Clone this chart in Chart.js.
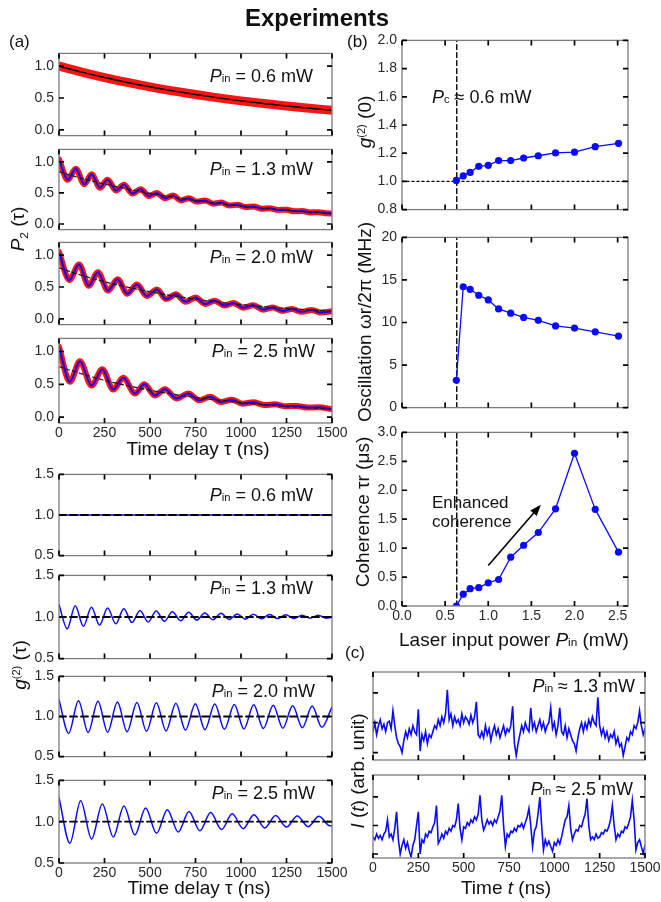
<!DOCTYPE html>
<html>
<head>
<meta charset="utf-8">
<script src="https://cdn.jsdelivr.net/npm/chart.js@4.4.1/dist/chart.umd.min.js"></script>
<style>
	html, body { margin: 0; padding: 0; background: #fff; }
	#fig { position: relative; width: 661px; height: 902px; overflow: hidden; font-family: "Liberation Sans", Arial, sans-serif; color: #111; }
	#fig canvas { position: absolute; }
	.txt { position: absolute; white-space: nowrap; line-height: 1; }
	.s { font-size: 0.62em; }
	.sub { font-size: 0.62em; position: relative; top: 0.3em; }
	.sup { font-size: 0.58em; position: relative; top: -0.55em; }
</style>
</head>
<body>
<div id="fig"></div>
<script>
	// ---- (a) upper: P2(tau) ----
	const p2FitTau = [0, 125, 250, 375, 500, 625, 750, 875, 1000, 1125, 1250, 1375, 1500];
	const p2Fit06 = [1.0, 0.906, 0.821, 0.745, 0.675, 0.612, 0.554, 0.502, 0.455, 0.413, 0.374, 0.339, 0.307];
	const p2Trend13 = [0.84, 0.735, 0.644, 0.564, 0.493, 0.432, 0.378, 0.331, 0.29, 0.254, 0.222, 0.194, 0.17];
	const p2Trend20 = [0.8, 0.683, 0.583, 0.498, 0.425, 0.363, 0.31, 0.265, 0.226, 0.193, 0.165, 0.141, 0.12];
	const p2Trend25 = [0.77, 0.66, 0.56, 0.48, 0.41, 0.35, 0.3, 0.26, 0.22, 0.19, 0.16, 0.14, 0.12];

	// peaks and troughs of the measured P2 curves
	const p2Tau13 = [0, 48, 92, 139, 179, 225, 267, 313, 357, 403, 449, 494, 537, 582, 626, 670, 714, 758, 803, 847, 892, 936, 981, 1025, 1070, 1114, 1159, 1203, 1248, 1292, 1337, 1381, 1426, 1470, 1500];
	const p2Val13 = [1.04, 0.71, 0.89, 0.64, 0.8, 0.585, 0.71, 0.54, 0.63, 0.49, 0.56, 0.45, 0.5, 0.415, 0.46, 0.38, 0.415, 0.36, 0.38, 0.326, 0.344, 0.297, 0.311, 0.272, 0.281, 0.247, 0.254, 0.226, 0.229, 0.205, 0.208, 0.186, 0.19, 0.172, 0.17];
	const p2Tau20 = [0, 57, 110, 163, 214, 269, 322, 375, 428, 483, 538, 589, 642, 695, 750, 803, 856, 909, 958, 1013, 1068, 1123, 1174, 1227, 1280, 1333, 1388, 1439, 1500];
	const p2Val20 = [1.05, 0.61, 0.855, 0.52, 0.73, 0.445, 0.62, 0.395, 0.54, 0.36, 0.46, 0.31, 0.385, 0.27, 0.335, 0.235, 0.285, 0.21, 0.25, 0.175, 0.215, 0.145, 0.18, 0.125, 0.155, 0.11, 0.14, 0.1, 0.12];
	const p2Tau25 = [0, 60, 115, 179, 238, 298, 353, 418, 469, 527, 582, 646, 711, 770, 830, 889, 949, 1008, 1068, 1127, 1187, 1246, 1306, 1365, 1425, 1500];
	const p2Val25 = [1.07, 0.54, 0.85, 0.48, 0.73, 0.42, 0.6, 0.36, 0.5, 0.33, 0.425, 0.285, 0.36, 0.255, 0.31, 0.23, 0.265, 0.205, 0.225, 0.185, 0.195, 0.165, 0.17, 0.145, 0.15, 0.12];

	// ---- (a) lower: g2(tau), peaks and troughs ----
	const g2BaseTau = [0, 1500];
	const g2Base = [1.0, 1.0];
	const g2Tau13 = [0, 45, 89, 134, 178, 223, 267, 312, 356, 401, 445, 490, 534, 579, 623, 668, 712, 757, 801, 846, 890, 935, 979, 1024, 1068, 1113, 1157, 1202, 1246, 1291, 1335, 1380, 1424, 1469, 1500];
	const g2Val13 = [1.15, 0.858, 1.135, 0.888, 1.116, 0.903, 1.109, 0.918, 1.1, 0.933, 1.079, 0.94, 1.071, 0.948, 1.064, 0.955, 1.056, 0.963, 1.049, 0.966, 1.045, 0.97, 1.037, 0.974, 1.034, 0.978, 1.03, 0.981, 1.026, 0.981, 1.022, 0.985, 1.022, 0.985, 1.0];
	const g2Tau20 = [0, 53, 107, 160, 214, 267, 321, 374, 428, 481, 535, 588, 642, 695, 749, 802, 856, 909, 963, 1016, 1070, 1123, 1177, 1230, 1284, 1337, 1391, 1444, 1500];
	const g2Val20 = [1.21, 0.79, 1.195, 0.8, 1.19, 0.805, 1.18, 0.81, 1.175, 0.815, 1.17, 0.82, 1.165, 0.83, 1.16, 0.835, 1.155, 0.84, 1.15, 0.845, 1.145, 0.85, 1.14, 0.855, 1.135, 0.86, 1.13, 0.865, 1.12];
	const g2Tau25 = [0, 60, 119, 179, 238, 298, 357, 417, 476, 536, 595, 655, 714, 774, 833, 893, 952, 1012, 1071, 1131, 1190, 1250, 1309, 1369, 1428, 1488, 1500];
	const g2Val25 = [1.29, 0.74, 1.255, 0.79, 1.215, 0.815, 1.19, 0.84, 1.165, 0.86, 1.145, 0.875, 1.125, 0.89, 1.11, 0.905, 1.095, 0.915, 1.085, 0.925, 1.075, 0.935, 1.07, 0.94, 1.065, 0.95, 0.952];

	// ---- (b) vs laser input power ----
	const pinPower = [0.63, 0.71, 0.79, 0.89, 1.0, 1.12, 1.26, 1.41, 1.58, 1.78, 2.0, 2.24, 2.51];
	const g2Zero = [1.007, 1.039, 1.064, 1.107, 1.114, 1.148, 1.148, 1.166, 1.182, 1.202, 1.207, 1.246, 1.27];
	const oscFreq = [3.2, 14.2, 13.9, 13.2, 12.65, 11.6, 11.1, 10.6, 10.25, 9.6, 9.35, 8.9, 8.4];
	const cohTime = [0.0, 0.204, 0.3, 0.317, 0.4, 0.458, 0.843, 1.05, 1.27, 1.68, 2.64, 1.67, 0.93];
	const pcThreshold = 0.635;
	const arrowFrom = { x: 1.0, y: 0.7 };
	const arrowTo = { x: 1.61, y: 1.75 };

	// ---- (c) intensity traces, one sample every 10 ns ----
	const traceStep = 10;
	const traceI13 = [0.7, 1.0, 0.6, 0.9, 1.1, 0.8, 0.95, 0.7, 1.0, 1.05, 0.8, 1.4, 0.9, 0.5, 0.3, 0.2, 0.0,
		0.4, 0.7, 0.5, 0.8, 0.6, 0.9, 0.7, 0.6, 1.45, 0.05, 0.6, 0.4, 0.7, 0.3, 0.6, 0.5,
		0.7, 0.9, 0.8, 1.1, 0.9, 1.2, 1.0, 1.3, 2.1, 1.1, 1.3, 0.9, 1.2, 1.0, 1.1, 0.9, 1.3, 1.0, 1.2, 1.1, 0.95, 1.25, 1.0, 1.2,
		1.7, 0.6, 0.5, 0.7, 0.5, 0.9, 0.6, 0.8, 0.4, 0.7, 0.9, 0.6, 0.8, 0.5, 0.7, 0.9, 0.6, 0.8, 0.7, 0.9,
		1.55, 0.3, -0.1, 0.3, 0.6, 0.9, 0.7, 1.0, 0.8, 0.7, 1.5, 0.8, 1.0, 0.7, 0.9, 1.1, 0.8, 1.0, 0.7, 0.9, 1.0,
		1.5, 0.8, 1.0, 0.6, 0.9, 1.5, 0.7, 0.6, 0.9, 0.5, 0.8, 0.6, 0.4, 0.3, 0.05,
		0.5, 0.8, 1.0, 0.7, 1.0, 0.8, 1.1, 0.9, 1.2, 1.0, 0.9, 1.85,
		0.9, 0.6, 0.8, 0.5, 0.7, 0.4, 0.6, 0.5, 0.7, 0.3, 0.5, 0.2, 0.3, -0.1,
		0.2, 0.5, 0.4, 0.7, 0.6, 0.9, 0.8, 1.0, 1.4, 0.9, 0.6, 0.8];
	const traceI25 = [0.6, 0.5, 0.7, 0.55, 0.65, 0.5, 0.7, 0.8, 1.2, 0.6, 0.7, 0.5, 0.9, 1.48, 0.5, 0.0,
		0.3, 0.5, 0.2, 0.4, 0.1, -0.1, 0.3, 0.5, 1.0, 1.48, 0.0,
		0.5, 0.4, 0.7, 0.6, 0.8, 0.75, 0.95, 1.1, 1.7, 0.37,
		0.5, 0.7, 0.55, 0.8, 0.7, 0.9, 0.8, 1.0, 0.95, 1.2, 1.77, 0.9, 0.5,
		0.95, 0.9, 1.1, 1.0, 1.2, 1.1, 1.3, 1.2, 1.4, 2.06, 1.2, 0.84,
		1.0, 1.2, 1.05, 1.15, 1.0, 1.2, 1.1, 1.3, 1.5, 2.06, 1.0, 0.26,
		0.7, 0.6, 0.8, 0.75, 0.9, 0.8, 1.0, 0.95, 1.07, 0.9, 1.1, 1.3, 1.6, 1.0, 0.26,
		0.8, 0.95, 1.4, 2.0, 1.0, 0.14,
		0.5, 0.3, 0.45, 0.26, 0.1, 0.4, 0.3, 0.5, 0.35, 0.6, 0.9, 1.2, 1.3, 1.7, 0.9, 0.5,
		0.7, 0.85, 0.8, 1.0, 0.95, 1.2, 1.4, 1.94, 1.0, 0.5,
		0.6, 0.5, 0.7, 0.55, 0.6, 0.75, 0.7, 0.85, 0.8, 0.95, 1.2, 1.7, 1.0, 0.5,
		0.7, 0.6, 0.8, 0.75, 0.95, 0.9, 1.07, 1.3, 1.88, 1.2, 0.14,
		0.4, 0.5, 0.25, 0.03, 0.3];

	// ---- tick values ----
	const tauTicks = [0, 250, 500, 750, 1000, 1250, 1500];
	const p2Ticks = [0, 0.5, 1.0];
	const g2Ticks = [0.5, 1.0, 1.5];
	const powerTicks = [0, 0.5, 1.0, 1.5, 2.0, 2.5];
	const g2ZeroTicks = [0.8, 1.0, 1.2, 1.4, 1.6, 1.8, 2.0];
	const oscTicks = [0, 5, 10, 15, 20];
	const cohTicks = [0, 0.5, 1.0, 1.5, 2.0, 2.5, 3.0];
	const traceTicks = [0, 1, 2];

	const BLUE = '#0a0aff';
	const RED = '#ff1414';
	const PAD_L = 46, PAD_R = 24, PAD_T = 10, PAD_B = 10, X_LABEL_H = 20;

	Chart.defaults.font.family = "'Liberation Sans', Arial, sans-serif";
	Chart.defaults.font.size = 14;
	Chart.defaults.color = '#2a2a2a';

	const fig = document.getElementById('fig');

	/**
	 * Gray frame with short black ticks pointing inward on all four sides
	 */
	const frameTicks = {
		id: 'frameTicks',
		afterDraw: function(chart) {
			const ctx = chart.ctx;
			const a = chart.chartArea;
			const xs = chart.scales.x;
			const ys = chart.scales.y;
			ctx.save();
			ctx.strokeStyle = '#7c7c7c';
			ctx.lineWidth = 1.3;
			ctx.strokeRect(a.left, a.top, a.right - a.left, a.bottom - a.top);
			ctx.strokeStyle = '#000';
			ctx.lineWidth = 1.7;
			ctx.beginPath();
			xs.ticks.forEach(function(t) {
				const p = xs.getPixelForValue(t.value);
				ctx.moveTo(p, a.top); ctx.lineTo(p, a.top + 5);
				ctx.moveTo(p, a.bottom); ctx.lineTo(p, a.bottom - 5);
			});
			ys.ticks.forEach(function(t) {
				const p = ys.getPixelForValue(t.value);
				ctx.moveTo(a.left, p); ctx.lineTo(a.left + 5, p);
				ctx.moveTo(a.right, p); ctx.lineTo(a.right - 5, p);
			});
			ctx.stroke();
			ctx.restore();
		}
	};

	/**
	 * Annotation arrow given in data coordinates
	 */
	const arrowPlugin = {
		id: 'arrow',
		afterDraw: function(chart, args, opts) {
			if (!opts || !opts.from) {
				return;
			}
			const ctx = chart.ctx;
			const xs = chart.scales.x;
			const ys = chart.scales.y;
			const x0 = xs.getPixelForValue(opts.from.x), y0 = ys.getPixelForValue(opts.from.y);
			const x1 = xs.getPixelForValue(opts.to.x), y1 = ys.getPixelForValue(opts.to.y);
			const ang = Math.atan2(y1 - y0, x1 - x0);
			const head = 12;
			ctx.save();
			ctx.strokeStyle = '#000';
			ctx.fillStyle = '#000';
			ctx.lineWidth = 1.6;
			ctx.beginPath();
			ctx.moveTo(x0, y0);
			ctx.lineTo(x1 - head * 0.8 * Math.cos(ang), y1 - head * 0.8 * Math.sin(ang));
			ctx.stroke();
			ctx.beginPath();
			ctx.moveTo(x1, y1);
			ctx.lineTo(x1 - head * Math.cos(ang - 0.36), y1 - head * Math.sin(ang - 0.36));
			ctx.lineTo(x1 - head * Math.cos(ang + 0.36), y1 - head * Math.sin(ang + 0.36));
			ctx.closePath();
			ctx.fill();
			ctx.restore();
		}
	};

	function fmt1(v) { return Number(v).toFixed(1); }
	function fmtInt(v) { return String(v); }

	function tickList(values) {
		return function(scale) {
			scale.ticks = values.map(function(v) { return { value: v }; });
		};
	}

	/**
	 * Line dataset from two parallel arrays
	 */
	function line(xs, ys, style) {
		return Object.assign({
			data: xs.map(function(x, i) { return { x: x, y: ys[i] }; }),
			pointRadius: 0,
			fill: false,
			borderWidth: 1.5,
			borderColor: BLUE,
			borderJoinStyle: 'round',
			borderCapStyle: 'round'
		}, style);
	}

	/**
	 * One chart panel whose plot area lands exactly on (x, y, w, h)
	 */
	function makePanel(p) {
		const axisH = p.xLabels ? X_LABEL_H : 0;
		const cw = p.w + PAD_L + PAD_R;
		const ch = p.h + PAD_T + axisH + PAD_B;
		const canvas = document.createElement('canvas');
		canvas.width = cw;
		canvas.height = ch;
		canvas.style.left = (p.x - PAD_L) + 'px';
		canvas.style.top = (p.y - PAD_T) + 'px';
		canvas.style.width = cw + 'px';
		canvas.style.height = ch + 'px';
		fig.appendChild(canvas);

		return new Chart(canvas, {
			type: 'line',
			data: { datasets: p.datasets },
			options: {
				responsive: false,
				animation: false,
				devicePixelRatio: 1,
				events: [],
				layout: { padding: { left: 0, right: PAD_R, top: PAD_T, bottom: PAD_B } },
				plugins: {
					legend: { display: false },
					tooltip: { enabled: false },
					arrow: p.arrow || false
				},
				scales: {
					x: {
						type: 'linear',
						min: p.xMin,
						max: p.xMax,
						afterBuildTicks: tickList(p.xTicks),
						afterFit: function(s) { s.height = axisH; },
						grid: { display: false, drawTicks: false },
						border: { display: false },
						ticks: { display: !!p.xLabels, padding: 2, autoSkip: false, maxRotation: 0, callback: p.xFmt || fmtInt }
					},
					y: {
						type: 'linear',
						min: p.yMin,
						max: p.yMax,
						afterBuildTicks: tickList(p.yTicks),
						afterFit: function(s) { s.width = PAD_L; },
						grid: { display: false, drawTicks: false },
						border: { display: false },
						ticks: { display: p.yLabels !== false, padding: 5, autoSkip: false, callback: p.yFmt || fmt1 }
					}
				}
			},
			plugins: [frameTicks, arrowPlugin]
		});
	}

	/**
	 * Positioned HTML text; (x, y) is the anchor, y the vertical middle
	 */
	function addText(html, x, y, o) {
		o = o || {};
		const d = document.createElement('div');
		d.className = 'txt';
		d.innerHTML = html;
		d.style.left = x + 'px';
		d.style.top = y + 'px';
		d.style.fontSize = (o.size || 18) + 'px';
		if (o.bold) {
			d.style.fontWeight = 'bold';
		}
		const tx = o.align === 'right' ? '-100%' : (o.align === 'left' ? '0' : '-50%');
		d.style.transform = 'translate(' + tx + ',-50%)' + (o.rotate ? ' rotate(-90deg)' : '');
		fig.appendChild(d);
	}

	// dataset styles
	const redBand = { borderColor: RED, borderWidth: 6, cubicInterpolationMode: 'monotone', order: 3 };
	const blueFit = { borderColor: BLUE, borderWidth: 2, cubicInterpolationMode: 'monotone', order: 2 };
	const trendLine = { borderColor: '#1a1a1a', borderWidth: 1.2, borderDash: [4, 3], cubicInterpolationMode: 'monotone', order: 1 };
	const g2Line = { borderColor: BLUE, borderWidth: 1.5, cubicInterpolationMode: 'monotone', order: 2 };
	const g2Dash = { borderColor: '#000', borderWidth: 1.8, borderDash: [7, 4], order: 1 };

	// ---- (a) P2 panels ----
	const leftX = 59, leftW = 273;
	const p2Common = { x: leftX, w: leftW, xMin: 0, xMax: 1500, xTicks: tauTicks, yMin: -0.09, yMax: 1.2, yTicks: p2Ticks };

	makePanel(Object.assign({}, p2Common, { y: 50, h: 89, datasets: [
		line(p2FitTau, p2Fit06, { borderColor: RED, borderWidth: 9, cubicInterpolationMode: 'monotone', order: 2 }),
		line(p2FitTau, p2Fit06, { borderColor: '#000', borderWidth: 1.5, cubicInterpolationMode: 'monotone', order: 1 })
	] }));
	makePanel(Object.assign({}, p2Common, { y: 146, h: 87, datasets: [
		line(p2Tau13, p2Val13, redBand), line(p2Tau13, p2Val13, blueFit), line(p2FitTau, p2Trend13, trendLine)
	] }));
	makePanel(Object.assign({}, p2Common, { y: 239, h: 89, datasets: [
		line(p2Tau20, p2Val20, redBand), line(p2Tau20, p2Val20, blueFit), line(p2FitTau, p2Trend20, trendLine)
	] }));
	makePanel(Object.assign({}, p2Common, { y: 335, h: 88, xLabels: true, datasets: [
		line(p2Tau25, p2Val25, redBand), line(p2Tau25, p2Val25, blueFit), line(p2FitTau, p2Trend25, trendLine)
	] }));

	// ---- (a) g2 panels ----
	const g2Common = { x: leftX, w: leftW, xMin: 0, xMax: 1500, xTicks: tauTicks, yMin: 0.5, yMax: 1.5, yTicks: g2Ticks };
	makePanel(Object.assign({}, g2Common, { y: 471, h: 88, datasets: [
		line(g2BaseTau, g2Base, g2Line), line(g2BaseTau, g2Base, g2Dash)
	] }));
	makePanel(Object.assign({}, g2Common, { y: 572, h: 90, datasets: [
		line(g2Tau13, g2Val13, g2Line), line(g2BaseTau, g2Base, g2Dash)
	] }));
	makePanel(Object.assign({}, g2Common, { y: 673, h: 87, datasets: [
		line(g2Tau20, g2Val20, g2Line), line(g2BaseTau, g2Base, g2Dash)
	] }));
	makePanel(Object.assign({}, g2Common, { y: 777, h: 86, xLabels: true, datasets: [
		line(g2Tau25, g2Val25, g2Line), line(g2BaseTau, g2Base, g2Dash)
	] }));

	// ---- (b) panels ----
	const bCommon = { x: 402, w: 226, xMin: 0, xMax: 2.62, xTicks: powerTicks, xFmt: fmt1 };
	const bPoints = { borderColor: BLUE, borderWidth: 1.3, pointRadius: 3.6, pointBackgroundColor: BLUE, pointBorderWidth: 0, order: 1 };
	const pcDash = { borderColor: '#000', borderWidth: 1.4, borderDash: [5, 3], order: 2 };

	makePanel(Object.assign({}, bCommon, { y: 37, h: 176, yMin: 0.8, yMax: 2.0, yTicks: g2ZeroTicks, datasets: [
		line(pinPower, g2Zero, bPoints),
		line([pcThreshold, pcThreshold], [0.8, 2.0], pcDash),
		line([0, 2.62], [1.0, 1.0], { borderColor: '#000', borderWidth: 1.4, borderDash: [2, 3], order: 3 })
	] }));
	makePanel(Object.assign({}, bCommon, { y: 234, h: 177, yMin: 0, yMax: 20, yTicks: oscTicks, yFmt: fmtInt, datasets: [
		line(pinPower, oscFreq, bPoints),
		line([pcThreshold, pcThreshold], [0, 20], pcDash)
	] }));
	makePanel(Object.assign({}, bCommon, { y: 429, h: 177, yMin: 0, yMax: 3, yTicks: cohTicks, xLabels: true, arrow: { from: arrowFrom, to: arrowTo }, datasets: [
		line(pinPower, cohTime, bPoints),
		line([pcThreshold, pcThreshold], [0, 3], pcDash)
	] }));

	// ---- (c) panels ----
	const traceTime = traceI13.map(function(v, i) { return i * traceStep; });
	const cCommon = { x: 373, w: 272, xMin: 0, xMax: 1500, xTicks: tauTicks, yTicks: traceTicks, yLabels: false };
	const traceStyle = { borderColor: BLUE, borderWidth: 1.6, borderJoinStyle: 'miter' };
	makePanel(Object.assign({}, cCommon, { y: 672, h: 88, yMin: -0.25, yMax: 2.7, datasets: [
		line(traceTime, traceI13, traceStyle)
	] }));
	makePanel(Object.assign({}, cCommon, { y: 775, h: 83, yMin: -0.14, yMax: 2.77, xLabels: true, datasets: [
		line(traceTime, traceI25, traceStyle)
	] }));

	// ---- texts ----
	const pin = '<i>P</i><span class="s">in</span>';
	addText('Experiments', 317, 18, { size: 24, bold: true });
	addText('(a)', 9, 41, { size: 17, align: 'left' });
	addText('(b)', 347, 41, { size: 17, align: 'left' });
	addText('(c)', 345, 652, { size: 17, align: 'left' });

	addText(pin + ' = 0.6 mW', 313, 76, { align: 'right' });
	addText(pin + ' = 1.3 mW', 313, 169, { align: 'right' });
	addText(pin + ' = 2.0 mW', 313, 257, { align: 'right' });
	addText(pin + ' = 2.5 mW', 315, 351, { align: 'right' });
	addText(pin + ' = 0.6 mW', 313, 495, { align: 'right' });
	addText(pin + ' = 1.3 mW', 313, 588, { align: 'right' });
	addText(pin + ' = 2.0 mW', 315, 691, { align: 'right' });
	addText(pin + ' = 2.5 mW', 315, 793, { align: 'right' });
	addText(pin + ' ≈ 1.3 mW', 635, 686, { align: 'right' });
	addText(pin + ' ≈ 2.5 mW', 633, 789, { align: 'right' });

	addText('<i>P</i><span class="s">c</span> ≈ 0.6 mW', 432, 97, { align: 'left' });
	addText('Enhanced', 432, 502, { size: 17, align: 'left' });
	addText('coherence', 432, 521, { size: 17, align: 'left' });

	addText('Time delay τ (ns)', 198, 448, { size: 19 });
	addText('Time delay τ (ns)', 199, 887, { size: 19 });
	addText('Laser input power ' + pin + ' (mW)', 514, 639, { size: 19 });
	addText('Time <i>t</i> (ns)', 506, 887, { size: 19 });

	addText('<i>P</i><span class="sub">2</span> (τ)', 17, 229, { size: 19, rotate: true });
	addText('<i>g</i><span class="sup">(2)</span> (τ)', 19, 665, { size: 19, rotate: true });
	addText('<i>g</i><span class="sup">(2)</span> (0)', 364, 122, { size: 19, rotate: true });
	addText('Oscillation ωr/2π (MHz)', 364, 322, { size: 19, rotate: true });
	addText('Coherence τr (μs)', 362, 512, { size: 19, rotate: true });
	addText('<i>I</i> (<i>t</i>) (arb. unit)', 357, 771, { size: 19, rotate: true });
</script>
</body>
</html>
